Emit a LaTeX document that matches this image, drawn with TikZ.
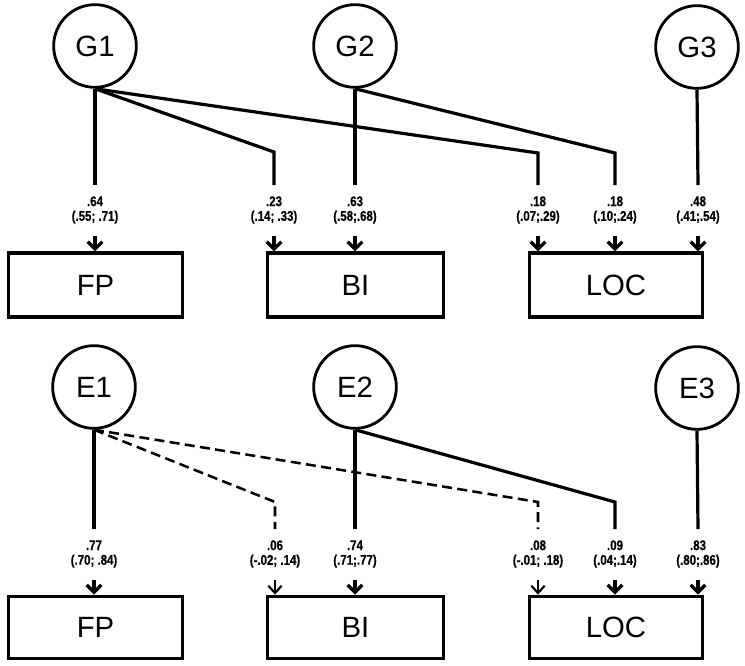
\documentclass[tikz,border=0pt]{standalone}
\usepackage{fontspec}
\setmainfont{Liberation Sans}
\newfontfamily\labfont[FakeStretch=0.82,FakeBold=0.5]{Liberation Sans Bold}
\usetikzlibrary{arrows.meta,calc}
\begin{document}
\begin{tikzpicture}[x=0.75pt,y=-0.75pt,
 lat/.style={circle,draw,line width=2.1pt,minimum size=62pt,inner sep=0pt,font=\fontsize{22}{22}\selectfont},
 obs/.style={draw,line width=2.3pt,inner sep=0pt,font=\fontsize{22}{22}\selectfont},
 lab/.style={align=center,inner sep=0pt,font=\labfont\fontsize{10.5}{11}\selectfont},
 solidpath/.style={line width=2.4pt},
 dashpath/.style={line width=1.9pt,dash pattern=on 7.5pt off 4pt},
 arr/.style={line width=2.5pt,-{Straight Barb[length=5.5pt,width=11pt]}},
 thinarr/.style={line width=1.6pt,-{Straight Barb[length=5.5pt,width=10pt]}},
]
\useasboundingbox (0,0) rectangle (745,666);

% ---------- top panel ----------
\node[lat] (G1) at (95,46) {G1};
\node[lat] (G2) at (355,46) {G2};
\node[lat] (G3) at (697,47) {G3};

\node[obs,minimum width=131pt,minimum height=48pt] (FP1) at (95.5,285) {FP};
\node[obs,minimum width=132.5pt,minimum height=48pt] (BI1) at (355.5,285) {BI};
\node[obs,minimum width=129.5pt,minimum height=48pt] (LOC1) at (616,285) {LOC};

\node[lab] (a1) at (95,210) {.64\\(.55; .71)};
\node[lab] (a2) at (274,210) {.23\\(.14; .33)};
\node[lab] (a3) at (355,210) {.63\\(.58;.68)};
\node[lab] (a4) at (538,210) {.18\\(.07;.29)};
\node[lab] (a5) at (615,210) {.18\\(.10;.24)};
\node[lab] (a6) at (698,210) {.48\\(.41;.54)};

\coordinate (k2) at (274,152);
\coordinate (k4) at (538,153);
\coordinate (k5) at (615,153);

\draw[solidpath] (G1.south) -- ($(a1.north)+(0,-11)$);
\draw[solidpath] (G1.south) -- (k2) -- ($(a2.north)+(0,-11)$);
\draw[solidpath] (G2.south) -- ($(a3.north)+(0,-11)$);
\draw[solidpath] (G1.south) -- (k4) -- ($(a4.north)+(0,-11)$);
\draw[solidpath] (G2.south) -- (k5) -- ($(a5.north)+(0,-11)$);
\draw[solidpath] (G3.south) -- ($(a6.north)+(0,-11)$);

\draw[arr] ($(a1.south)+(0,12)$) -- (a1 |- FP1.north);
\draw[arr] ($(a2.south)+(0,12)$) -- (a2 |- BI1.north);
\draw[arr] ($(a3.south)+(0,12)$) -- (a3 |- BI1.north);
\draw[arr] ($(a4.south)+(0,12)$) -- (a4 |- LOC1.north);
\draw[arr] ($(a5.south)+(0,12)$) -- (a5 |- LOC1.north);
\draw[arr] ($(a6.south)+(0,12)$) -- (a6 |- LOC1.north);

% ---------- bottom panel ----------
\node[lat] (E1) at (94,387) {E1};
\node[lat] (E2) at (355,387) {E2};
\node[lat] (E3) at (697,388) {E3};

\node[obs,minimum width=131pt,minimum height=47pt] (FP2) at (95.5,627.5) {FP};
\node[obs,minimum width=132.5pt,minimum height=47pt] (BI2) at (355.5,627.5) {BI};
\node[obs,minimum width=129.5pt,minimum height=47pt] (LOC2) at (616,627.5) {LOC};

\node[lab] (b1) at (94,554) {.77\\(.70; .84)};
\node[lab] (b2) at (275,554) {.06\\(-.02; .14)};
\node[lab] (b3) at (355,554) {.74\\(.71;.77)};
\node[lab] (b4) at (538,554) {.08\\(-.01; .18)};
\node[lab] (b5) at (615,554) {.09\\(.04;.14)};
\node[lab] (b6) at (698,554) {.83\\(.80;.86)};

\coordinate (m2) at (275,502);
\coordinate (m4) at (538,502);
\coordinate (m5) at (615,502);

\draw[solidpath] (E1.south) -- ($(b1.north)+(0,-11)$);
\draw[dashpath] (E1.south) -- (m2) -- ($(b2.north)+(0,-11)$);
\draw[solidpath] (E2.south) -- ($(b3.north)+(0,-11)$);
\draw[dashpath] (E1.south) -- (m4) -- ($(b4.north)+(0,-11)$);
\draw[solidpath] (E2.south) -- (m5) -- ($(b5.north)+(0,-11)$);
\draw[solidpath] (E3.south) -- ($(b6.north)+(0,-11)$);

\draw[arr] ($(b1.south)+(0,12)$) -- (b1 |- FP2.north);
\draw[thinarr] ($(b2.south)+(0,12)$) -- (b2 |- BI2.north);
\draw[arr] ($(b3.south)+(0,12)$) -- (b3 |- BI2.north);
\draw[thinarr] ($(b4.south)+(0,12)$) -- (b4 |- LOC2.north);
\draw[arr] ($(b5.south)+(0,12)$) -- (b5 |- LOC2.north);
\draw[arr] ($(b6.south)+(0,12)$) -- (b6 |- LOC2.north);
\end{tikzpicture}
\end{document}
